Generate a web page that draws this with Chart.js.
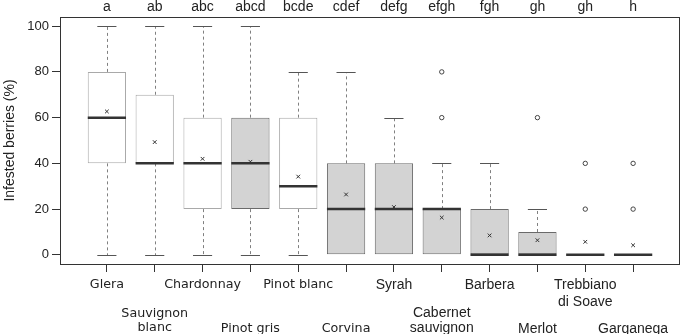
<!DOCTYPE html>
<html>
<head>
<meta charset="utf-8">
<script src="https://cdn.jsdelivr.net/npm/chart.js@4.4.1/dist/chart.umd.min.js"></script>
<style>
  html, body { margin: 0; padding: 0; background: #ffffff; }
  #wrap { width: 685px; height: 334px; }
</style>
</head>
<body>
<div id="wrap"><canvas id="c" width="685" height="334"></canvas></div>
<script>
// ---------------- data ----------------
const categories = ["Glera", "Sauvignon\nblanc", "Chardonnay", "Pinot gris", "Pinot blanc", "Corvina",
                    "Syrah", "Cabernet\nsauvignon", "Barbera", "Merlot", "Trebbiano\ndi Soave", "Garganega"];
const groupLetters = ["a", "ab", "abc", "abcd", "bcde", "cdef", "defg", "efgh", "fgh", "gh", "gh", "h"];
const berryColour  = ["white", "white", "white", "grey", "white", "red", "red", "red", "red", "red", "white", "white"];
const whiskerLow   = [0, 0, 0, 0, 0, 0, 0, 0, 0, 0, 0, 0];
const quartile1    = [40, 40, 20, 20, 20, 0, 0, 0, 0, 0, 0, 0];
const medians      = [60, 40, 40, 40, 30, 20, 20, 20, 0, 0, 0, 0];
const quartile3    = [80, 70, 60, 60, 60, 40, 40, 20, 20, 10, 0, 0];
const whiskerHigh  = [100, 100, 100, 100, 80, 80, 60, 40, 40, 20, 0, 0];
const means        = [62.7, 49.3, 42.0, 40.7, 34.2, 26.4, 20.9, 16.3, 8.5, 6.4, 5.7, 4.2];
const outlierCat   = [8, 8, 10, 11, 11, 12, 12];
const outlierVal   = [60, 80, 60, 20, 40, 20, 40];
const yTicks       = [0, 20, 40, 60, 80, 100];
const yTitle       = "Infested berries (%)";

// ---------------- styling ----------------
const fillFor   = c => c === "white" ? "#ffffff" : "#d3d3d3";
const borderFor = c => c === "white" ? "#a9a9a9" : "#6a6a6a";
const ink = "#222222";

const pos = categories.map((_, i) => i + 1);
const boxData = pos.map((p, i) => ({ x: p, y: [quartile1[i], quartile3[i]] }));
const meanData = pos.map((p, i) => ({ x: p, y: means[i] }));
const outData = outlierCat.map((c, i) => ({ x: c, y: outlierVal[i] }));

// label lines: alternate rows
const labelLines = categories.map((name, i) => {
  const parts = name.split("\n");
  if (i % 2 === 0) return parts;
  const pad = [];
  for (let k = 0; k < 4 - parts.length; k++) pad.push("");
  return pad.concat(parts);
});
const labelFont = (i) => {
  if (typeof i !== "number" || !categories[i]) {
    return { family: "DejaVu Sans", size: 12.7, lineHeight: "16px" };
  }
  const parts = categories[i].split("\n").length;
  let lh;
  if (i % 2 === 0) lh = parts > 1 ? "17px" : "16px";
  else lh = parts > 1 ? "14.5px" : "14.9px";
  if (i < 6) return { family: "DejaVu Sans", size: 12.7, lineHeight: lh };
  return { family: "Liberation Sans", size: 14, lineHeight: lh };
};

const boxParts = {
  id: "boxParts",
  beforeDatasetsDraw(chart) {
    const { ctx, scales: { x, y } } = chart;
    ctx.save();
    ctx.lineWidth = 1;
    for (let i = 0; i < categories.length; i++) {
      const p = pos[i];
      const px = Math.round(x.getPixelForValue(p)) + 0.5;
      const cl = x.getPixelForValue(p - 0.2), cr = x.getPixelForValue(p + 0.2);
      const yq1 = y.getPixelForValue(quartile1[i]);
      const yq3 = y.getPixelForValue(quartile3[i]);
      const ylo = Math.round(y.getPixelForValue(whiskerLow[i])) + 0.5;
      const yhi = Math.round(y.getPixelForValue(whiskerHigh[i])) + 0.5;
      ctx.setLineDash([3, 3]);
      ctx.strokeStyle = "#808080";
      if (whiskerHigh[i] > quartile3[i]) {
        ctx.beginPath(); ctx.moveTo(px, yq3); ctx.lineTo(px, yhi); ctx.stroke();
      }
      if (whiskerLow[i] < quartile1[i]) {
        ctx.beginPath(); ctx.moveTo(px, yq1); ctx.lineTo(px, ylo); ctx.stroke();
      }
      ctx.setLineDash([]);
      ctx.strokeStyle = "#555555";
      if (whiskerHigh[i] > quartile3[i]) {
        ctx.beginPath(); ctx.moveTo(cl, yhi); ctx.lineTo(cr, yhi); ctx.stroke();
      }
      if (whiskerLow[i] < quartile1[i]) {
        ctx.beginPath(); ctx.moveTo(cl, ylo); ctx.lineTo(cr, ylo); ctx.stroke();
      }
    }
    ctx.restore();
  },
  afterDatasetDraw(chart, args) {
    if (args.index !== 0) return;
    const { ctx, scales: { x, y } } = chart;
    ctx.save();
    ctx.strokeStyle = "#333333";
    ctx.lineWidth = 2.5;
    for (let i = 0; i < categories.length; i++) {
      const l = x.getPixelForValue(pos[i] - 0.4), r = x.getPixelForValue(pos[i] + 0.4);
      const ym = y.getPixelForValue(medians[i]);
      ctx.beginPath(); ctx.moveTo(l, ym); ctx.lineTo(r, ym); ctx.stroke();
    }
    ctx.restore();
  },
  afterDraw(chart) {
    const { ctx, chartArea: a, scales: { x } } = chart;
    ctx.save();
    ctx.strokeStyle = "#333333";
    ctx.lineWidth = 1;
    ctx.strokeRect(Math.round(a.left) + 0.5, Math.round(a.top) + 0.5,
                   Math.round(a.right - a.left) - 1, Math.round(a.bottom - a.top));
    ctx.fillStyle = ink;
    ctx.font = "14px 'Liberation Sans', Arial, sans-serif";
    ctx.textAlign = "center";
    ctx.textBaseline = "middle";
    groupLetters.forEach((t, i) => ctx.fillText(t, x.getPixelForValue(pos[i]), 7));
    ctx.restore();
  }
};

new Chart(document.getElementById("c"), {
  type: "bar",
  data: {
    datasets: [
      {
        type: "bar",
        data: boxData,
        order: 3,
        backgroundColor: berryColour.map(fillFor),
        borderColor: berryColour.map(borderFor),
        borderWidth: 1,
        borderSkipped: false,
        barPercentage: 0.8,
        categoryPercentage: 1.0
      },
      {
        type: "scatter",
        data: outData,
        order: 2,
        pointStyle: "circle",
        pointRadius: 2.2,
        pointBackgroundColor: "rgba(0,0,0,0)",
        pointBorderColor: "#444444",
        pointBorderWidth: 1
      },
      {
        type: "scatter",
        data: meanData,
        order: 1,
        pointStyle: "crossRot",
        pointRadius: 2.6,
        pointBorderColor: "#333333",
        pointBorderWidth: 1
      }
    ]
  },
  options: {
    responsive: false,
    devicePixelRatio: 1,
    animation: false,
    layout: { padding: { top: 17, right: 2, left: 0, bottom: 0 } },
    plugins: { legend: { display: false }, tooltip: { enabled: false } },
    scales: {
      x: {
        type: "linear",
        offset: false,
        min: 0.02,
        max: 12.98,
        afterBuildTicks: s => { s.ticks = pos.map(v => ({ value: v })); },
        afterFit: s => { s.height = 70; },
        grid: { display: true, offset: false, drawOnChartArea: false, drawTicks: true, tickLength: 8, color: "#333333" },
        border: { display: false },
        ticks: {
          autoSkip: false,
          maxRotation: 0,
          minRotation: 0,
          padding: 5,
          color: ink,
          font: ctx => labelFont(ctx.index),
          callback: (v, i) => labelLines[i]
        }
      },
      y: {
        type: "linear",
        min: -4,
        max: 104,
        afterBuildTicks: s => { s.ticks = yTicks.map(v => ({ value: v })); },
        afterFit: s => { s.width = 60; },
        grid: { display: true, drawOnChartArea: false, drawTicks: true, tickLength: 8, color: "#333333" },
        border: { display: false },
        ticks: {
          padding: 3,
          color: ink,
          font: { family: "Liberation Sans", size: 13 }
        },
        title: {
          display: true,
          text: yTitle,
          color: ink,
          font: { family: "Liberation Sans", size: 14 },
          padding: { top: 2, bottom: 0 }
        }
      }
    }
  },
  plugins: [boxParts]
});
</script>
</body>
</html>
